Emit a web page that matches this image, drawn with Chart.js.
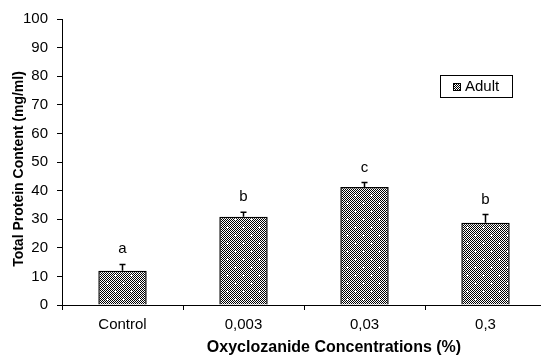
<!DOCTYPE html>
<html>
<head>
<meta charset="utf-8">
<script src="https://cdn.jsdelivr.net/npm/chart.js@4"></script>
<style>
  html, body { margin: 0; padding: 0; background: #fff; overflow: hidden; }
  #wrap { width: 548px; height: 357px; }
</style>
</head>
<body>
<div id="wrap"><canvas id="proteinChart"></canvas></div>
<script>
// data
const categories = ['Control', '0,003', '0,03', '0,3'];
const adultMeans = [12.0, 30.9, 41.3, 28.8];
const adultSD = [2.2, 1.5, 1.5, 2.8];
const groupLetters = ['a', 'b', 'c', 'b'];
const yTicks = [0, 10, 20, 30, 40, 50, 60, 70, 80, 90, 100];
const xTitle = 'Oxyclozanide Concentrations (%)';
const yTitle = 'Total Protein Content (mg/ml)';

const FONT = '"Liberation Sans", Arial, sans-serif';

// black/white checker with white dots, like the old Excel fill
function makePattern() {
    const c = document.createElement('canvas');
    c.width = 16; c.height = 16;
    const g = c.getContext('2d');
    g.fillStyle = '#fff';
    g.fillRect(0, 0, 16, 16);
    g.fillStyle = '#000';
    for (let y = 0; y < 16; y++) {
        for (let x = 0; x < 16; x++) {
            if ((x + y) % 2 === 0) g.fillRect(x, y, 1, 1);
        }
    }
    g.fillStyle = '#fff';
    [[3, 3], [11, 11]].forEach(function(p) {
        g.fillRect(p[0] - 1, p[1], 3, 1);
        g.fillRect(p[0], p[1] - 1, 1, 3);
    });
    return g.createPattern(c, 'repeat');
}

const ctx = document.getElementById('proteinChart').getContext('2d');
const fill = makePattern();

// error bars + significance letters
const errorBars = {
    id: 'errorBars',
    afterDatasetsDraw(chart) {
        const meta = chart.getDatasetMeta(0);
        const y = chart.scales.y;
        const c = chart.ctx;
        c.save();
        c.strokeStyle = '#000';
        c.lineWidth = 1.5;
        c.fillStyle = '#000';
        c.font = '15px ' + FONT;
        c.textAlign = 'center';
        c.textBaseline = 'alphabetic';
        meta.data.forEach(function(bar, i) {
            const top = y.getPixelForValue(adultMeans[i] + adultSD[i]);
            c.beginPath();
            c.moveTo(bar.x, bar.y);
            c.lineTo(bar.x, top);
            c.moveTo(bar.x - 3, top);
            c.lineTo(bar.x + 3, top);
            c.stroke();
            c.fillText(groupLetters[i], bar.x, top - 11);
        });
        c.restore();
    }
};

// boxed legend inside the plot, plus the two axis titles
// (the original's titles sit a bit off the plot centre)
const extras = {
    id: 'extras',
    afterDraw(chart) {
        const c = chart.ctx;
        c.save();
        c.fillStyle = '#fff';
        c.fillRect(440.5, 75.5, 72, 22);
        c.strokeStyle = '#000';
        c.lineWidth = 1;
        c.strokeRect(440.5, 75.5, 72, 22);
        c.fillStyle = fill;
        c.fillRect(453, 83, 8, 8);
        c.strokeRect(453.5, 83.5, 7, 7);
        c.fillStyle = '#000';
        c.font = '15px ' + FONT;
        c.textBaseline = 'middle';
        c.textAlign = 'left';
        c.fillText(chart.data.datasets[0].label, 465, 87);

        c.textAlign = 'center';
        c.font = 'bold 16px ' + FONT;
        c.fillText(xTitle, 334, 348);
        c.translate(19, 169);
        c.rotate(-Math.PI / 2);
        c.font = 'bold 14px ' + FONT;
        c.fillText(yTitle, 0, 0);
        c.restore();
    }
};

new Chart(ctx, {
    type: 'bar',
    data: {
        labels: categories,
        datasets: [{
            label: 'Adult',
            data: adultMeans,
            backgroundColor: fill,
            borderColor: '#000',
            borderWidth: 1.5,
            borderSkipped: 'bottom',
            categoryPercentage: 1,
            barPercentage: 0.4
        }]
    },
    options: {
        responsive: true,
        maintainAspectRatio: false,
        animation: false,
        layout: { padding: { top: 19, right: 2, left: 0, bottom: 0 } },
        plugins: {
            legend: { display: false },
            tooltip: { enabled: false }
        },
        scales: {
            x: {
                offset: true,
                grid: { drawOnChartArea: false, tickLength: 5, color: '#000', offset: true },
                border: { color: '#000', width: 1 },
                ticks: { color: '#000', font: { family: FONT, size: 15 }, padding: 6 },
                afterFit(scale) { scale.height = 52; }
            },
            y: {
                min: 0,
                max: 100,
                afterBuildTicks(scale) {
                    scale.ticks = yTicks.map(function(v) { return { value: v }; });
                },
                grid: { drawOnChartArea: false, tickLength: 5, color: '#000' },
                border: { color: '#000', width: 1 },
                ticks: { color: '#000', font: { family: FONT, size: 15 }, padding: 9 },
                afterFit(scale) { scale.width = 62; }
            }
        }
    },
    plugins: [errorBars, extras]
});
</script>
</body>
</html>
